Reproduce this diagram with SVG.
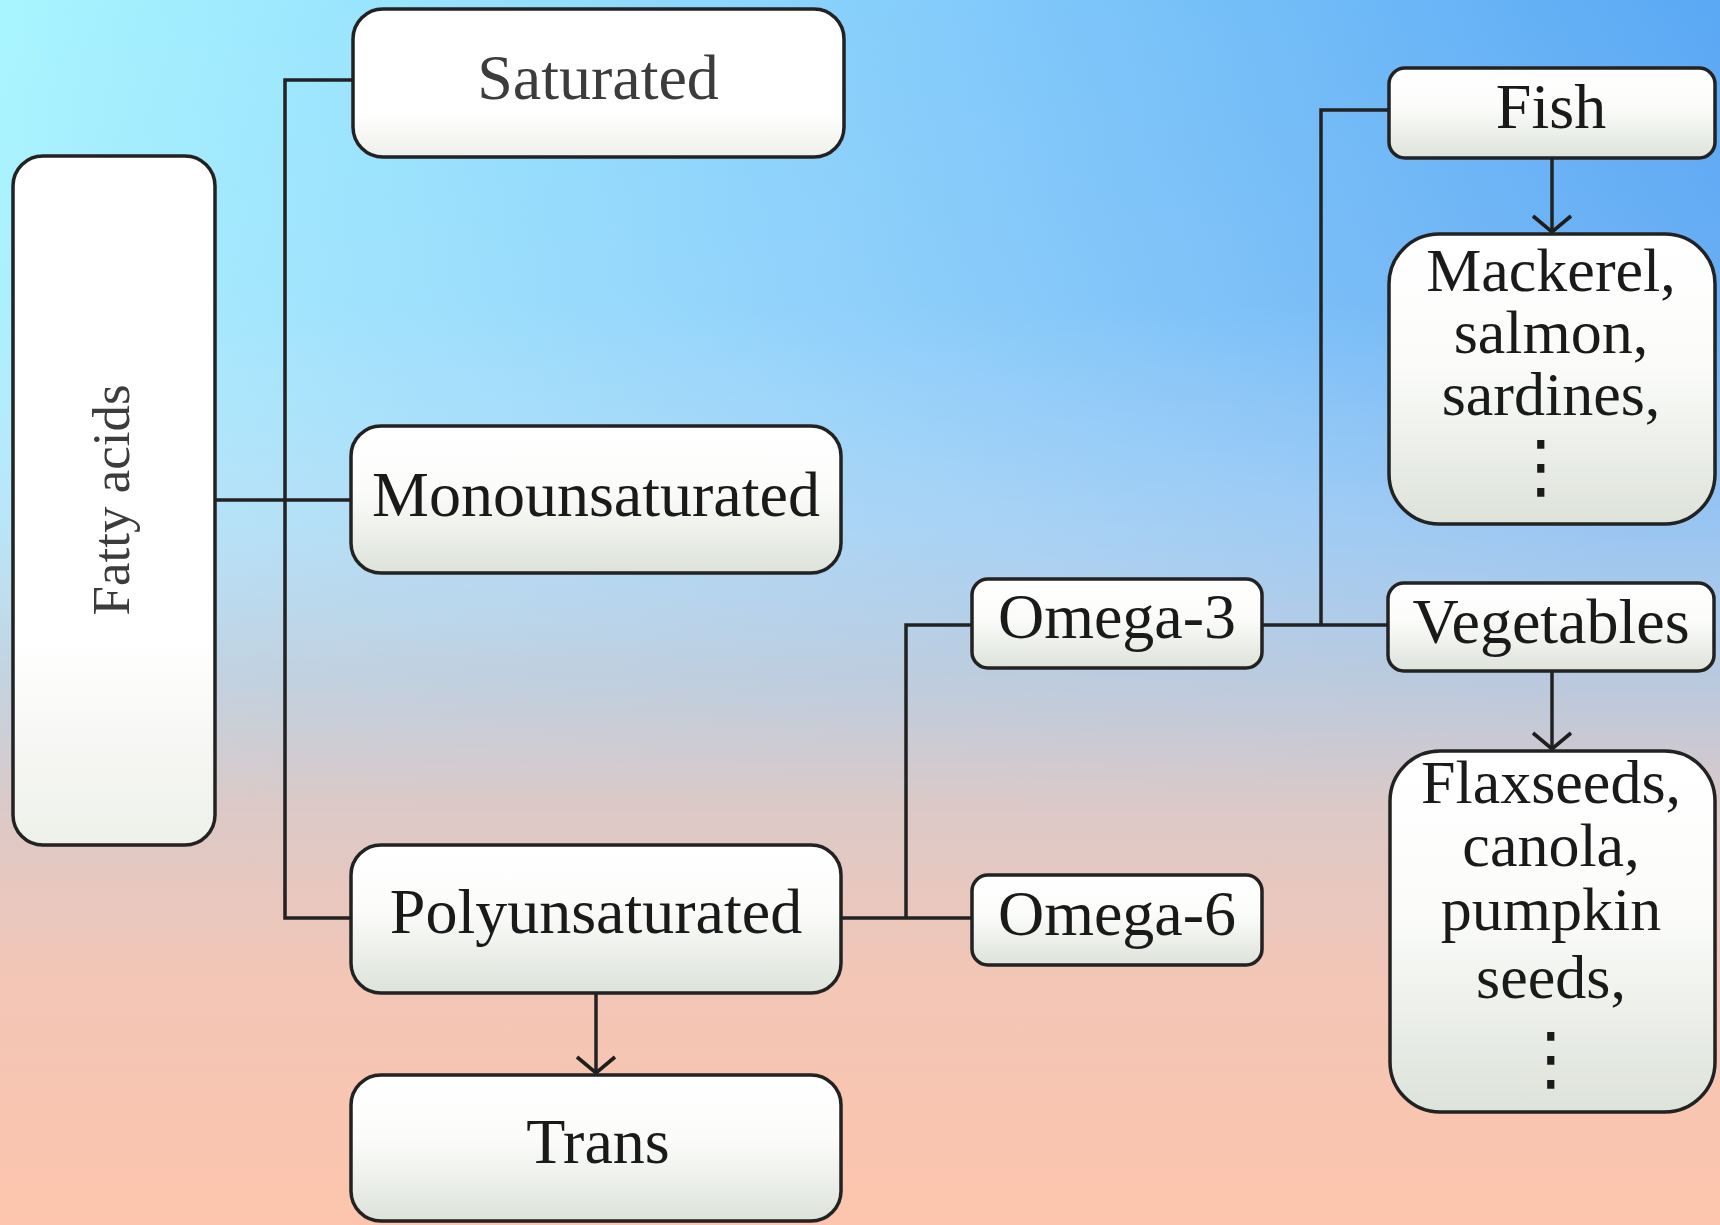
<svg xmlns="http://www.w3.org/2000/svg" width="1720" height="1225" viewBox="0 0 1720 1225">
  <defs>
    <linearGradient id="skyGrad" x1="0" y1="0" x2="1" y2="0.25">
      <stop offset="0" stop-color="#a8f5ff"/>
      <stop offset="0.5" stop-color="#85cdfb"/>
      <stop offset="1" stop-color="#55a3f3"/>
    </linearGradient>
    <linearGradient id="warmGrad" x1="0" y1="0" x2="0" y2="1">
      <stop offset="0" stop-color="#d6ecfb" stop-opacity="0"/>
      <stop offset="0.25" stop-color="#d6ecfb" stop-opacity="0.15"/>
      <stop offset="0.42" stop-color="#cde0f3" stop-opacity="0.55"/>
      <stop offset="0.55" stop-color="#c9cfdb" stop-opacity="0.85"/>
      <stop offset="0.66" stop-color="#dcc9c7" stop-opacity="1"/>
      <stop offset="0.8" stop-color="#f3c6b6" stop-opacity="1"/>
      <stop offset="1" stop-color="#fdc5ad" stop-opacity="1"/>
    </linearGradient>
    <linearGradient id="boxFill" x1="0" y1="0" x2="0" y2="1">
      <stop offset="0" stop-color="#ffffff"/>
      <stop offset="0.45" stop-color="#fbfcfa"/>
      <stop offset="1" stop-color="#dde2da"/>
    </linearGradient>
    <linearGradient id="boxFillLight" x1="0" y1="0" x2="0" y2="1">
      <stop offset="0" stop-color="#ffffff"/>
      <stop offset="0.7" stop-color="#ffffff"/>
      <stop offset="1" stop-color="#eef0ea"/>
    </linearGradient>
    <marker id="openArrow" viewBox="0 0 44 22" refX="22" refY="19" markerWidth="44" markerHeight="22" markerUnits="userSpaceOnUse" orient="0">
      <path d="M3,3 L22,19 L41,3" fill="none" stroke="#1e1e1e" stroke-width="3.6" stroke-linejoin="miter"/>
    </marker>
    <style>
      .box { stroke: #222; stroke-width: 3.5; fill: url(#boxFill); }
      .boxw { stroke: #222; stroke-width: 3.5; fill: url(#boxFillLight); }
      .lbl { font-family: "Liberation Serif", "Times New Roman", serif; font-size: 64px; fill: #1a1a1a; text-anchor: middle; }
      .soft { fill: #3c3c3c; }
      .side { font-size: 53px; }
      .list { font-size: 62px; }
      .dots { font-family: "DejaVu Sans", sans-serif; font-size: 70px; fill: #1a1a1a; text-anchor: middle; }
      .wire { fill: none; stroke: #222; stroke-width: 3.5; }
    </style>
  </defs>

  <!-- background wash: blue sky at the top melting into peach at the bottom -->
  <rect x="0" y="0" width="1720" height="1225" fill="url(#skyGrad)"/>
  <rect x="0" y="0" width="1720" height="1225" fill="url(#warmGrad)"/>

  <!-- connectors -->
  <g id="connectors">
    <!-- main trunk from Saturated down to Polyunsaturated -->
    <path class="wire" d="M353,80 H285 V918 H351"/>
    <!-- Fatty acids to Monounsaturated -->
    <path class="wire" d="M215,500 H351"/>
    <!-- Polyunsaturated to Omega-6, branch up to Omega-3 -->
    <path class="wire" d="M841,918 H972"/>
    <path class="wire" d="M906,918 V625 H972"/>
    <!-- Omega-3 to Vegetables, branch up to Fish -->
    <path class="wire" d="M1262,625 H1388"/>
    <path class="wire" d="M1321,625 V110 H1389"/>
    <!-- arrows -->
    <path class="wire" d="M596,993 V1073" marker-end="url(#openArrow)"/>
    <path class="wire" d="M1552,158 V232" marker-end="url(#openArrow)"/>
    <path class="wire" d="M1552,671 V749" marker-end="url(#openArrow)"/>
  </g>

  <g id="node-fatty-acids">
    <rect class="boxw" x="13" y="156" width="202" height="689" rx="30"/>
    <text class="lbl soft side" transform="translate(129,500) rotate(-90)">Fatty acids</text>
  </g>

  <g id="node-saturated">
    <rect class="boxw" x="353" y="9" width="491" height="148" rx="30"/>
    <text class="lbl soft" x="598" y="99">Saturated</text>
  </g>

  <g id="node-monounsaturated">
    <rect class="box" x="351" y="426" width="490" height="147" rx="30"/>
    <text class="lbl" x="596" y="516">Monounsaturated</text>
  </g>

  <g id="node-polyunsaturated">
    <rect class="box" x="351" y="845" width="490" height="148" rx="30"/>
    <text class="lbl" x="596" y="933">Polyunsaturated</text>
  </g>

  <g id="node-trans">
    <rect class="box" x="351" y="1075" width="490" height="146" rx="30"/>
    <text class="lbl" x="598" y="1163">Trans</text>
  </g>

  <g id="node-omega-3">
    <rect class="box" x="972" y="579" width="290" height="89" rx="16"/>
    <text class="lbl" x="1117" y="638">Omega-3</text>
  </g>

  <g id="node-omega-6">
    <rect class="box" x="972" y="875" width="290" height="90" rx="16"/>
    <text class="lbl" x="1117" y="935">Omega-6</text>
  </g>

  <g id="node-fish">
    <rect class="box" x="1389" y="68" width="326" height="90" rx="16"/>
    <text class="lbl" x="1551" y="128">Fish</text>
  </g>

  <g id="node-fish-examples">
    <rect class="box" x="1389" y="234" width="326" height="290" rx="50"/>
    <text class="lbl list" x="1551" y="291"><tspan x="1551" y="291">Mackerel,</tspan><tspan x="1551" y="353">salmon,</tspan><tspan x="1551" y="415">sardines,</tspan></text>
    <text class="dots" x="1541" y="490">⋮</text>
  </g>

  <g id="node-vegetables">
    <rect class="box" x="1388" y="583" width="326" height="88" rx="16"/>
    <text class="lbl" x="1551" y="643">Vegetables</text>
  </g>

  <g id="node-vegetable-examples">
    <rect class="box" x="1390" y="751" width="325" height="361" rx="50"/>
    <text class="lbl list" x="1551" y="803"><tspan x="1551" y="803">Flaxseeds,</tspan><tspan x="1551" y="866">canola,</tspan><tspan x="1551" y="930">pumpkin</tspan><tspan x="1551" y="998">seeds,</tspan></text>
    <text class="dots" x="1551" y="1082">⋮</text>
  </g>
</svg>
